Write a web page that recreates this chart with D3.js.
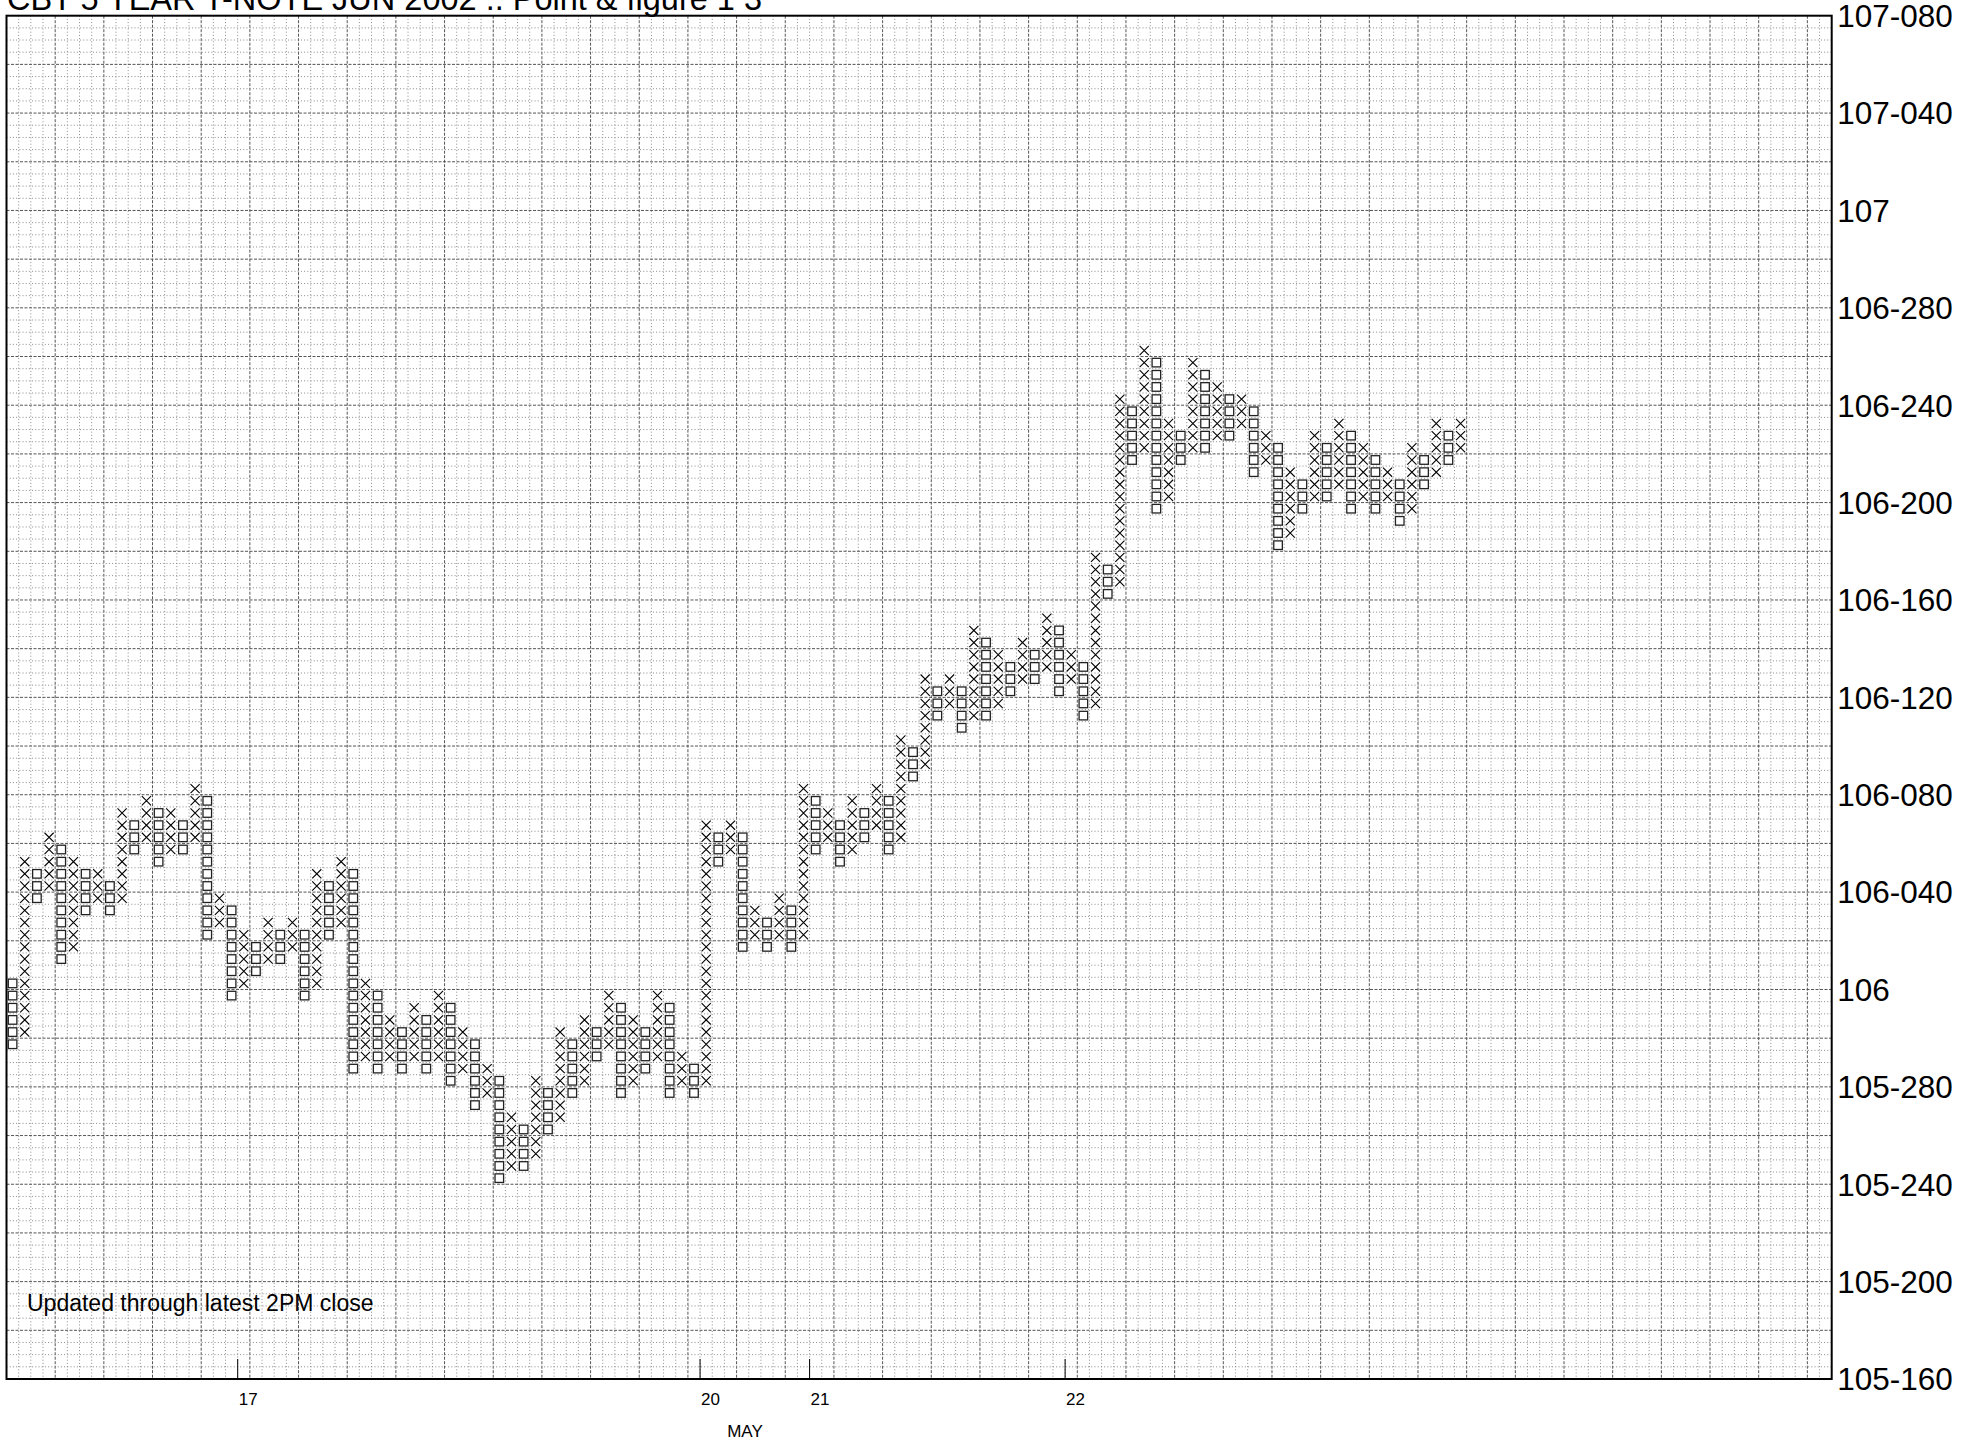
<!DOCTYPE html>
<html><head><meta charset="utf-8">
<script src="https://cdn.jsdelivr.net/npm/d3@7"></script>
<style>
body{margin:0;background:#fff;}
svg{display:block;font-family:"Liberation Sans",Arial,Helvetica,sans-serif;}
</style>
</head><body>
<svg id="chart" width="1969" height="1442"></svg>
<script>
// ---- data ----
const titleText = "CBT 5 YEAR T-NOTE JUN 2002 .. Point & figure 1 3";
const noteText = "Updated through latest 2PM close";
const boxSize = 1 / 64;           // one box = 1/2 of a 32nd
// column type, one letter per column (O = falling, X = rising)
const colTypes = "OXOXOXOXOXOXOXOXOXOXOXOXOXOXOXOXOXOXOXOXOXOXOXOXOXOXOXOXOXOXOXOXOXOXOXOXOXOXOXOXOXOXOXOXOXOXOXOXOXOXOXOXOXOXOXOXOXOXOXOX".split("");
// lowest / highest box of each column, in 64ths of a point above 105
const colLow = [59,60,71,72,66,67,70,71,70,71, 75,76,74,75,75,76,68,69,63,64,
  65,66,66,67,63,64,68,69,57,58, 57,58,57,58,57,58,56,57,54,55,
  48,49,49,50,52,53,55,56,58,59, 55,56,57,58,55,56,55,56,74,75,
  67,68,67,68,67,68,75,76,74,75, 76,77,75,76,81,82,86,87,85,86,
  86,87,88,89,89,90,88,89,86,87, 96,97,107,108,103,104,107,108,108,109,
  109,110,106,107,100,101,103,104,104,105, 103,104,103,104,102,103,105,106,107,108];
const colHigh = [64,74,73,76,75,74,73,73,72,78, 77,79,78,78,77,80,79,71,70,68,
  67,69,68,69,68,73,72,74,73,64, 63,61,60,62,61,63,62,60,59,57,
  56,53,52,56,55,60,59,61,60,63, 62,61,60,63,62,58,57,77,76,77,
  76,70,69,71,70,80,79,78,77,79, 78,80,79,84,83,89,88,89,88,93,
  92,91,90,92,91,94,93,91,90,99, 98,112,111,116,115,110,109,115,114,113,
  112,112,111,109,108,106,105,109,108,110, 109,108,107,106,105,108,107,110,109,110];
// y axis
const yTickValues = [107.25,107.125,107,106.875,106.75,106.625,106.5,106.375,106.25,106.125,106,105.875,105.75,105.625,105.5];
const yTickLabels = ["107-080","107-040","107","106-280","106-240","106-200","106-160","106-120","106-080","106-040","106","105-280","105-240","105-200","105-160"];
// x axis (date changes, at column boundaries)
const dateCols = [19,57,66,87];
const dateLabels = ["17","20","21","22"];
const monthLabel = "MAY";

// ---- layout ----
const L = 6.5, R = 1831.7, T = 15.7, B = 1379;
const nCols = 150;
const yMin = 105.5, yMax = 107.25;

const svg = d3.select("#chart");
const x = d3.scaleLinear().domain([0, nCols]).range([L, R]);
const y = d3.scaleLinear().domain([yMin, yMax]).range([B, T]);
const nRows = Math.round((yMax - yMin) / boxSize);

// grid
const grid = svg.append("g");
for (let i = 1; i < nCols; i++) {
  const major = i % 4 === 0;
  grid.append("line").attr("x1", x(i)).attr("x2", x(i)).attr("y1", T).attr("y2", B)
    .attr("stroke", major ? "#555" : "#8a8a8a").attr("stroke-width", 1)
    .attr("stroke-dasharray", major ? "3,1.5" : "1,2.2");
}
for (let k = 1; k < nRows; k++) {
  const major = k % 4 === 0;
  const yy = y(yMin + k * boxSize);
  grid.append("line").attr("x1", L).attr("x2", R).attr("y1", yy).attr("y2", yy)
    .attr("stroke", major ? "#555" : "#8a8a8a").attr("stroke-width", 1)
    .attr("stroke-dasharray", major ? "3,1.5" : "1,2.2");
}

// marks
const cols = colTypes.map((t, i) => ({t, i, lo: colLow[i], hi: colHigh[i]}));
const boxes = [];
cols.forEach(c => { for (let v = c.lo; v <= c.hi; v++) boxes.push({t: c.t, i: c.i, v}); });
const marks = svg.append("g");
const ins = 1.5;
boxes.forEach(b => {
  const x0 = x(b.i) + ins, x1 = x(b.i + 1) - ins;
  const y0 = y(105 + (b.v + 1) * boxSize) + ins, y1 = y(105 + b.v * boxSize) - ins;
  if (b.t === "X") {
    marks.append("path").attr("d", `M${x0},${y0}L${x1},${y1}M${x1},${y0}L${x0},${y1}`)
      .attr("stroke", "#000").attr("stroke-width", 1.1).attr("fill", "none");
  } else {
    marks.append("rect").attr("x", x0 + 0.3).attr("y", y0 + 0.3)
      .attr("width", x1 - x0 - 0.6).attr("height", y1 - y0 - 0.6)
      .attr("fill", "none").attr("stroke", "#222").attr("stroke-width", 1.3);
  }
});

// frame
svg.append("rect").attr("x", L).attr("y", T).attr("width", R - L).attr("height", B - T)
  .attr("fill", "none").attr("stroke", "#000").attr("stroke-width", 2);

// y axis labels
svg.append("g").selectAll("text").data(yTickValues).join("text")
  .attr("x", R + 5.5).attr("y", d => y(d)).attr("dy", "0.36em")
  .attr("font-size", 31.5).attr("fill", "#000")
  .text((d, i) => yTickLabels[i]);

// date ticks and labels
const dg = svg.append("g");
dateCols.forEach((c, i) => {
  dg.append("line").attr("x1", x(c)).attr("x2", x(c)).attr("y1", B).attr("y2", B - 20)
    .attr("stroke", "#000").attr("stroke-width", 1);
  dg.append("text").attr("x", x(c) + 1).attr("y", 1405).attr("font-size", 17).text(dateLabels[i]);
});
svg.append("text").attr("x", 745).attr("y", 1437).attr("text-anchor", "middle")
  .attr("font-size", 17).text(monthLabel);

// title and note
svg.append("text").attr("x", 7).attr("y", 10).attr("font-size", 32.5).text(titleText);
svg.append("text").attr("x", 27).attr("y", 1311).attr("font-size", 23).text(noteText);
</script>
</body></html>
